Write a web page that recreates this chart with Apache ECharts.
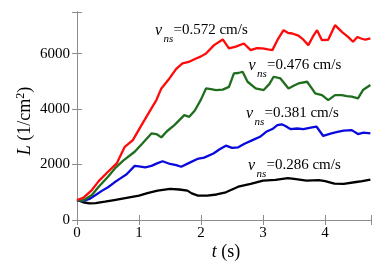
<!DOCTYPE html>
<html><head><meta charset="utf-8">
<script src="https://cdn.jsdelivr.net/npm/echarts@6/dist/echarts.min.js"></script>
<style>html,body{margin:0;padding:0;background:#fff}#c{width:374px;height:268px}</style>
</head><body><div id="c"></div>
<script>
const xTicks = [0, 1, 2, 3, 4];
const yTicks = [0, 2000, 4000, 6000];

const tBlack = [0,0.1,0.2,0.3,0.45,0.6,0.8,1.0,1.15,1.3,1.5,1.65,1.78,1.85,1.95,2.1,2.25,2.4,2.6,2.8,3.0,3.2,3.4,3.5,3.7,3.9,4.0,4.15,4.3,4.5,4.6,4.73];
const LBlack = [720,640,600,610,660,720,800,880,980,1060,1120,1100,1060,960,880,880,920,1000,1200,1300,1420,1450,1510,1480,1420,1440,1400,1310,1300,1370,1400,1460];

const tBlue = [0,0.1,0.2,0.3,0.4,0.5,0.6,0.7,0.8,0.93,1.0,1.1,1.2,1.3,1.38,1.5,1.6,1.68,1.8,1.94,2.05,2.2,2.3,2.4,2.5,2.6,2.7,2.83,2.95,3.05,3.15,3.23,3.3,3.36,3.44,3.55,3.65,3.79,3.86,3.97,4.1,4.2,4.3,4.43,4.53,4.62,4.73];
const LBlue = [720,690,760,900,1050,1180,1350,1500,1650,1950,1930,1900,1950,2050,2120,2020,1980,1920,2050,2200,2250,2400,2550,2680,2600,2620,2750,2880,3000,3180,3280,3420,3450,3390,3280,3300,3280,3340,3370,3030,3120,3180,3220,3240,3100,3150,3120];

const tGreen = [0,0.1,0.24,0.35,0.5,0.61,0.75,0.93,1.05,1.2,1.28,1.36,1.45,1.57,1.65,1.73,1.81,1.9,2.0,2.08,2.16,2.24,2.35,2.45,2.53,2.6,2.67,2.75,2.88,3.01,3.1,3.17,3.28,3.41,3.5,3.57,3.71,3.8,3.84,3.95,4.05,4.16,4.27,4.35,4.43,4.53,4.61,4.73];
const LGreen = [720,700,900,1200,1560,1860,2150,2460,2750,3120,3100,2980,3200,3420,3600,3780,3720,3950,4350,4745,4720,4685,4700,4800,5285,5300,5345,4985,4745,4685,4900,5165,5105,4745,4850,4925,4985,4700,4565,4505,4325,4505,4500,4470,4445,4385,4685,4865];

const tRed = [0,0.1,0.24,0.35,0.5,0.64,0.77,0.9,1.04,1.2,1.28,1.36,1.49,1.6,1.7,1.8,1.92,2.0,2.08,2.21,2.35,2.45,2.56,2.69,2.8,2.9,2.99,3.08,3.15,3.23,3.33,3.4,3.47,3.57,3.65,3.73,3.8,3.87,3.95,4.05,4.16,4.27,4.37,4.45,4.52,4.58,4.65,4.73];
const LRed = [720,800,1080,1400,1740,2040,2640,2880,3420,4025,4325,4745,5105,5450,5645,5700,5825,5900,6005,6305,6510,6185,6250,6365,6125,6200,6185,6150,6125,6485,6845,6750,6725,6650,6500,6305,6600,6845,6485,6500,7025,6785,6605,6425,6600,6545,6500,6545];

const labels = ['=0.572 cm/s', '=0.476 cm/s', '=0.381 cm/s', '=0.286 cm/s'];

const pair = (t, L) => t.map((v, i) => [v, L[i]]);
const FONT = '"Liberation Serif", "DejaVu Serif", serif';
const AX = '#8c8c8c';

const chart = echarts.init(document.getElementById('c'));

const xBase = {
  type: 'value', min: 0, max: 4.74, interval: 1,
  axisLine: { lineStyle: { color: AX, width: 1 } },
  axisTick: { inside: true, length: 5, lineStyle: { color: AX } },
  splitLine: { show: false }
};
const yBase = {
  type: 'value', min: 0, max: 7500, interval: 2000,
  axisLine: { show: true, lineStyle: { color: AX, width: 1 } },
  axisTick: { show: true, inside: true, length: 5, lineStyle: { color: AX } },
  splitLine: { show: false }
};
const fmtX = v => xTicks.indexOf(v) >= 0 ? String(v) : '';
const fmtY = v => yTicks.indexOf(v) >= 0 ? String(v) : '';

function ann(x0, y0, txt) {
  return [
    { type: 'text', x: x0, y: y0 - 4, z: 10, style: { text: 'v', font: 'italic 16px ' + FONT, fill: '#000', verticalAlign: 'middle', align: 'left' } },
    { type: 'text', x: x0 + 8.5, y: y0 + 4, z: 10, style: { text: 'ns', font: 'italic 11px ' + FONT, fill: '#000', verticalAlign: 'middle', align: 'left' } },
    { type: 'text', x: x0 + 18.5, y: y0 - 5, z: 10, style: { text: txt, font: '15px ' + FONT, fill: '#000', verticalAlign: 'middle', align: 'left' } }
  ];
}

const line = (data, color) => ({
  type: 'line', data: data, showSymbol: false, smooth: false,
  lineStyle: { color: color, width: 2.3 }, itemStyle: { color: color }, z: 3
});

chart.setOption({
  animation: false,
  backgroundColor: '#fff',
  grid: { left: 77, right: 1, top: 12, bottom: 48 },
  xAxis: [
    Object.assign({}, xBase, { position: 'bottom', axisLabel: { formatter: fmtX, color: '#000', fontSize: 15, fontFamily: FONT, margin: 6 } }),
    Object.assign({}, xBase, { position: 'top', axisLabel: { show: false } })
  ],
  yAxis: [
    Object.assign({}, yBase, { position: 'left', axisLabel: { formatter: fmtY, color: '#000', fontSize: 15, fontFamily: FONT, margin: 7 } }),
    Object.assign({}, yBase, { position: 'right', axisLabel: { show: false } })
  ],
  series: [
    line(pair(tBlack, LBlack), '#000000'),
    line(pair(tBlue, LBlue), '#0a0adc'),
    line(pair(tGreen, LGreen), '#1e6e1e'),
    line(pair(tRed, LRed), '#ff0a0a')
  ],
  graphic: [
    { type: 'text', x: 226, y: 252, style: { text: '{i|t} (s)', rich: { i: { fontStyle: 'italic', fontSize: 18, fontFamily: FONT } }, font: '18px ' + FONT, fill: '#000', align: 'center', verticalAlign: 'middle' } },
    { type: 'text', x: 25, y: 121, rotation: Math.PI / 2, style: { text: '{i|L} (1/cm{s|2})', rich: { i: { fontStyle: 'italic', fontSize: 18, fontFamily: FONT }, s: { fontSize: 12, fontFamily: FONT, verticalAlign: 'top', lineHeight: 20 } }, font: '18px ' + FONT, fill: '#000', align: 'center', verticalAlign: 'middle' } },
    ...ann(155, 35, labels[0]),
    ...ann(248.5, 70, labels[1]),
    ...ann(246, 118, labels[2]),
    ...ann(248, 170, labels[3])
  ]
});
</script></body></html>
